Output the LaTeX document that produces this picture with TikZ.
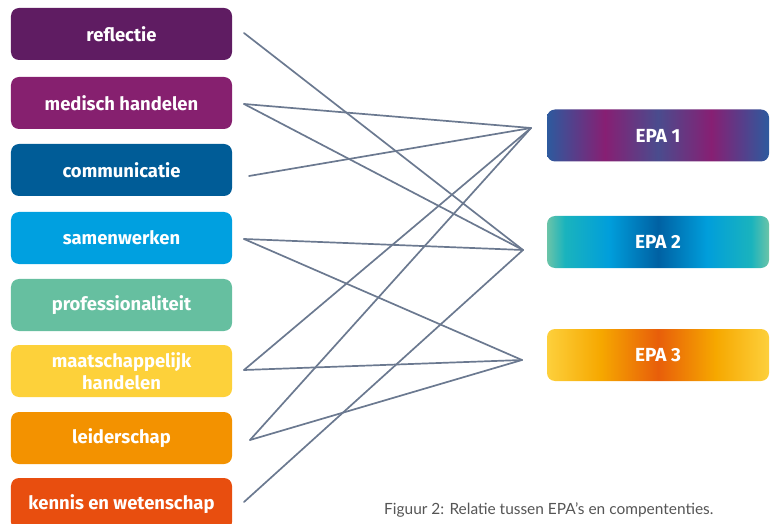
\documentclass[tikz,border=0pt]{standalone}
\usepackage{fontspec}
\setmainfont{Fira Sans}
\newfontfamily\capfont{Lato}
\usetikzlibrary{calc}

% competence colours
\definecolor{cReflectie}{HTML}{5F1C62}
\definecolor{cMedisch}{HTML}{86206F}
\definecolor{cCommunicatie}{HTML}{005C97}
\definecolor{cSamenwerken}{HTML}{00A0E0}
\definecolor{cProf}{HTML}{66BFA0}
\definecolor{cMaatsch}{HTML}{FDD13A}
\definecolor{cLeider}{HTML}{F39200}
\definecolor{cKennis}{HTML}{E84E0F}
\definecolor{linkgray}{HTML}{6B7990}
\definecolor{captiongray}{HTML}{555555}

% EPA gradient colours
\definecolor{eOneEdge}{HTML}{2D5A9E}
\definecolor{eOnePurple}{HTML}{871F73}
\definecolor{eOneMid}{HTML}{4A4C8E}
\definecolor{eTwoEdge}{HTML}{6BC4A8}
\definecolor{eTwoTeal}{HTML}{1AB3BD}
\definecolor{eTwoCyan}{HTML}{009EDB}
\definecolor{eTwoMid}{HTML}{0061A3}
\definecolor{eThreeEdge}{HTML}{FDD03C}
\definecolor{eThreeAmber}{HTML}{F6A800}
\definecolor{eThreeMid}{HTML}{E85E0A}

\pgfdeclarehorizontalshading{epaone}{100bp}{color(0bp)=(eOneEdge); color(25bp)=(eOneEdge);
  color(38bp)=(eOnePurple); color(50bp)=(eOneMid); color(62bp)=(eOnePurple);
  color(75bp)=(eOneEdge); color(100bp)=(eOneEdge)}
\pgfdeclarehorizontalshading{epatwo}{100bp}{color(0bp)=(eTwoEdge); color(25bp)=(eTwoEdge);
  color(29bp)=(eTwoTeal); color(39bp)=(eTwoCyan); color(50bp)=(eTwoMid);
  color(61bp)=(eTwoCyan); color(71bp)=(eTwoTeal); color(75bp)=(eTwoEdge); color(100bp)=(eTwoEdge)}
\pgfdeclarehorizontalshading{epathree}{100bp}{color(0bp)=(eThreeEdge); color(25bp)=(eThreeEdge);
  color(37bp)=(eThreeAmber); color(50bp)=(eThreeMid); color(63bp)=(eThreeAmber);
  color(75bp)=(eThreeEdge); color(100bp)=(eThreeEdge)}

\tikzset{
  compbox/.style={rounded corners=8bp, minimum width=221bp, minimum height=52bp,
    text=white, font=\fontsize{18.5}{22.5}\selectfont\bfseries, align=center, inner sep=0pt},
  epabox/.style={rounded corners=8bp, minimum width=222bp, minimum height=52bp,
    text=white, font=\fontsize{19}{20}\selectfont\bfseries, inner sep=0pt},
  link/.style={draw=linkgray, line width=1.7bp, line cap=round}
}

\begin{document}
\begin{tikzpicture}[x=1bp, y=-1bp]
\useasboundingbox (0,0) rectangle (774,524);
\clip (0,0) rectangle (774,524);

% competences
\node[compbox, fill=cReflectie]    (refl) at (121.5,34)  {reflectie};
\node[compbox, fill=cMedisch]      (med)  at (121.5,103) {medisch handelen};
\node[compbox, fill=cCommunicatie] (comm) at (121.5,170) {communicatie};
\node[compbox, fill=cSamenwerken]  (samw) at (121.5,238) {samenwerken};
\node[compbox, fill=cProf]         (prof) at (121.5,305) {professionaliteit};
\node[compbox, fill=cMaatsch]      (maat) at (121.5,371) {maatschappelijk\\handelen};
\node[compbox, fill=cLeider]       (leid) at (121.5,438) {leiderschap};
\node[compbox, fill=cKennis]       (kenn) at (121.5,504) {kennis en wetenschap};

% EPAs
\node[epabox, shading=epaone]   (epa1) at (658,135.5) {EPA 1};
\node[epabox, shading=epatwo]   (epa2) at (658,242)   {EPA 2};
\node[epabox, shading=epathree] (epa3) at (658,355)   {EPA 3};

% connector ends
\coordinate (pRefl) at (244,33);
\coordinate (pMed)  at (244,104);
\coordinate (pComm) at (249,176);
\coordinate (pSamw) at (244,239);
\coordinate (pMaat) at (244,370);
\coordinate (pLeid) at (250,440);
\coordinate (pKenn) at (244,502);
\coordinate (pEpa1) at (531,128);
\coordinate (pEpa2) at (523,250);
\coordinate (pEpa3) at (522,360);

% relations
\draw[link] (pRefl) -- (pEpa2);
\draw[link] (pMed)  -- (pEpa1);
\draw[link] (pMed)  -- (pEpa2);
\draw[link] (pComm) -- (pEpa1);
\draw[link] (pSamw) -- (pEpa2);
\draw[link] (pSamw) -- (pEpa3);
\draw[link] (pMaat) -- (pEpa3);
\draw[link] (pMaat) -- (pEpa1);
\draw[link] (pLeid) -- (pEpa1);
\draw[link] (pLeid) -- (pEpa3);
\draw[link] (pKenn) -- (pEpa2);

% caption
\node[anchor=base west, text=captiongray, font=\capfont\fontsize{15.5}{16}\selectfont, inner sep=0pt]
  (cap) at (384,514) {Figuur 2: Relatie tussen EPA’s en compententies.};
\end{tikzpicture}
\end{document}
